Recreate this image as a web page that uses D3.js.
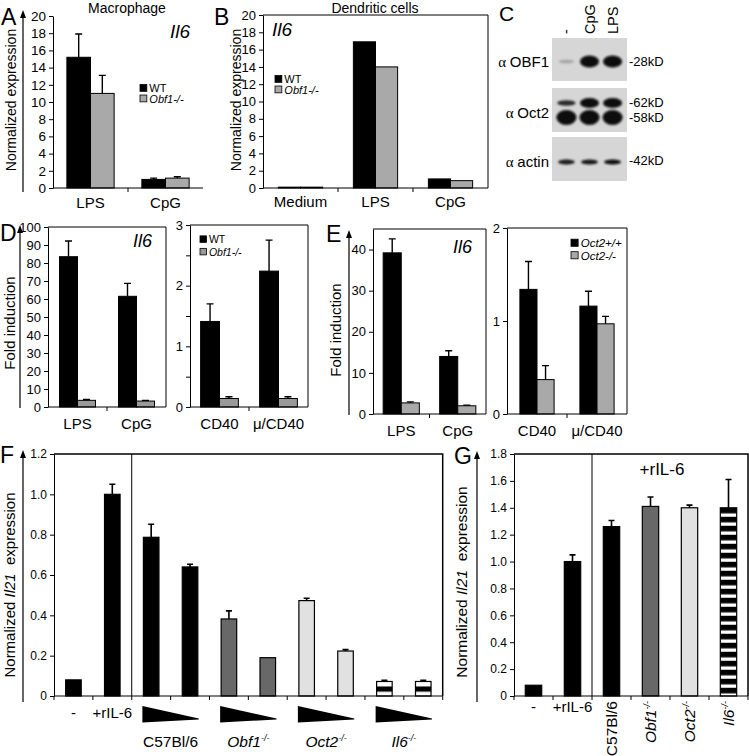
<!DOCTYPE html>
<html><head><meta charset="utf-8">
<script src="https://cdn.jsdelivr.net/npm/d3@7"></script>
<style>body{margin:0;background:#fff}svg{display:block}</style>
</head><body>
<script>
// ---------------- DATA ----------------
// Panel A (Macrophage, Il6)
const aCats = ["LPS", "CpG"];
const aWT = [15.2, 1.0];
const aWTErr = [2.7, 0.15];
const aKO = [11.0, 1.15];
const aKOErr = [2.1, 0.15];
const aTicks = [0, 2, 4, 6, 8, 10, 12, 14, 16, 18, 20];
// Panel B (Dendritic cells, Il6)
const bCats = ["Medium", "LPS", "CpG"];
const bWT = [0.1, 16.9, 1.05];
const bKO = [0.1, 14.0, 0.85];
const bTicks = [0, 2, 4, 6, 8, 10, 12, 14, 16, 18, 20];
// Panel C (western blot) band intensities per lane
const cLanes = ["-", "CpG", "LPS"];
const cOBF1 = [0.25, 1, 1];
const cOct2Upper = [0.85, 1, 1];
const cOct2Lower = [1, 1, 1];
const cActin = [0.9, 0.95, 1];
// Panel D
const d1Cats = ["LPS", "CpG"];
const d1WT = [83.5, 61.5];
const d1WTErr = [8.7, 7.2];
const d1KO = [3.7, 3.3];
const d1KOErr = [0.5, 0.4];
const d1Ticks = [0, 10, 20, 30, 40, 50, 60, 70, 80, 90, 100];
const d2Cats = ["CD40", "\u03bc/CD40"];
const d2WT = [1.41, 2.24];
const d2WTErr = [0.29, 0.51];
const d2KO = [0.14, 0.14];
const d2KOErr = [0.03, 0.03];
const d2Ticks = [0, 0.5, 1, 1.5, 2, 2.5, 3];
const d2TickLabels = ["0", "", "1", "", "2", "", "3"];
// Panel E
const e1Cats = ["LPS", "CpG"];
const e1WT = [39.2, 14.0];
const e1WTErr = [3.4, 1.4];
const e1KO = [2.7, 2.0];
const e1KOErr = [0.25, 0.15];
const e1Ticks = [0, 10, 20, 30, 40];
const e2Cats = ["CD40", "\u03bc/CD40"];
const e2WT = [1.34, 1.16];
const e2WTErr = [0.30, 0.16];
const e2KO = [0.37, 0.97];
const e2KOErr = [0.15, 0.08];
const e2Ticks = [0, 1, 2];
// Panel F (Il21)
const fSlots = ["ctl", "rIL6", "C57a", "C57b", "Obf1a", "Obf1b", "Oct2a", "Oct2b", "Il6a", "Il6b"];
const fGroups = ["ctl", "ctl", "C57", "C57", "Obf1", "Obf1", "Oct2", "Oct2", "Il6", "Il6"];
const fValues = [0.08, 1.0, 0.787, 0.64, 0.382, 0.19, 0.473, 0.223, 0.072, 0.072];
const fErrs = [0, 0.05, 0.065, 0.013, 0.04, 0, 0.012, 0.007, 0.006, 0.006];
const fTicks = [0, 0.2, 0.4, 0.6, 0.8, 1.0, 1.2];
const fTickLabels = ["0", "0.2", "0.4", "0.6", "0.8", "1.0", "1.2"];
// Panel G (Il21, +rIL-6)
const gSlots = ["ctl", "rIL6", "C57", "Obf1", "Oct2", "Il6"];
const gGroups = ["ctl", "ctl", "C57", "Obf1", "Oct2", "Il6"];
const gValues = [0.08, 1.0, 1.26, 1.41, 1.40, 1.40];
const gErrs = [0, 0.05, 0.045, 0.07, 0.02, 0.21];
const gTicks = [0, 0.2, 0.4, 0.6, 0.8, 1.0, 1.2, 1.4, 1.6, 1.8];
const gTickLabels = ["0", "0.2", "0.4", "0.6", "0.8", "1.0", "1.2", "1.4", "1.6", "1.8"];

// ---------------- SETUP ----------------
const FONT = '"Liberation Sans", Arial, Helvetica, sans-serif';
const svg = d3.select("body").append("svg").attr("width", 749).attr("height", 756)
  .style("font-family", FONT);
const defs = svg.append("defs");
defs.append("filter").attr("id", "blur").attr("x", "-50%").attr("y", "-100%").attr("width", "200%").attr("height", "300%")
  .append("feGaussianBlur").attr("stdDeviation", 1.3);

const BLACK = "#000", GRAY = "#a9a9a9", DGRAY = "#686868", LGRAY = "#e1e1e1";

function txt(g, x, y, s, size, opts = {}) {
  const t = g.append("text").attr("x", x).attr("y", y).attr("font-size", size).attr("fill", "#000")
    .attr("text-anchor", opts.anchor || "start");
  if (opts.italic) t.attr("font-style", "italic");
  if (opts.rotate) t.attr("transform", `rotate(${opts.rotate},${x},${y})`);
  if (opts.family) t.attr("font-family", opts.family);
  t.text(s);
  return t;
}
function arrowAxis(x, yb, yt) {
  svg.append("path").attr("d", `M${x},${yb}V${yt + 6}`).attr("stroke", "#000").attr("stroke-width", 1.2);
  svg.append("path").attr("d", `M${x - 3},${yt + 8}L${x},${yt}L${x + 3},${yt + 8}Z`).attr("fill", "#000");
}
function panelLetter(x, y, s, size) { txt(svg, x, y, s, size || 23); }

function barPanel(p) {
  const g = svg.append("g");
  const y = d3.scaleLinear().domain(p.domain).range([p.bottom, p.top]);
  const x = d3.scaleBand().domain(p.cats).range([p.left, p.right]).paddingInner(p.pad).paddingOuter(p.padOuter ?? p.pad / 2);
  const xs = d3.scaleBand().domain(p.series.map((s, i) => i)).range([0, x.bandwidth()]);
  if (p.frame) g.append("path").attr("d", `M${p.left},${p.top}H${p.right}V${p.bottom}`)
    .attr("fill", "none").attr("stroke", "#000").attr("stroke-width", 1);
  p.series.forEach((s, i) => {
    g.append("g").selectAll("rect").data(p.cats).join("rect")
      .attr("x", c => x(c) + xs(i)).attr("width", xs.bandwidth())
      .attr("y", (c, j) => y(s.values[j])).attr("height", (c, j) => y(0) - y(s.values[j]))
      .attr("fill", s.fill).attr("stroke", "#000").attr("stroke-width", 1);
    if (s.errs) g.append("g").selectAll("path").data(p.cats).join("path")
      .attr("d", (c, j) => {
        const cx = x(c) + xs(i) + xs.bandwidth() / 2, t = y(s.values[j] + s.errs[j]), b = y(s.values[j]);
        return `M${cx},${b}V${t}M${cx - 3.5},${t}H${cx + 3.5}`;
      }).attr("stroke", "#000").attr("stroke-width", 1.4).attr("fill", "none");
  });
  const axis = d3.axisLeft(y).tickValues(p.ticks).tickSize(4).tickSizeOuter(0).tickPadding(3)
    .tickFormat((d, i) => p.tickLabels ? p.tickLabels[i] : d);
  const ya = g.append("g").attr("transform", `translate(${p.left},0)`).call(axis);
  ya.selectAll("text").attr("font-size", p.tickFont || 13).attr("font-family", FONT).attr("fill", "#000");
  ya.selectAll("line,path").attr("stroke", "#000");
  g.append("path").attr("d", `M${p.left},${p.bottom}H${p.right}`).attr("stroke", "#000");
  const step = x.step(), gap = step * x.paddingInner();
  g.selectAll(".xt").data(p.cats.slice(1)).join("path")
    .attr("d", c => `M${x(c) - gap / 2},${p.bottom}v4`).attr("stroke", "#000");
  p.cats.forEach((c, j) => txt(g, x(c) + x.bandwidth() / 2 + (p.labelDx || 0), p.bottom + (p.labelDy || 20), c, p.labelFont || 15, { anchor: "middle" }));
  return { x, y, g };
}
function legend(x, y, items, size, dy) {
  items.forEach((it, i) => {
    svg.append("rect").attr("x", x).attr("y", y + i * dy - size * 0.68).attr("width", size * 0.62).attr("height", size * 0.62)
      .attr("fill", it.fill).attr("stroke", "#000").attr("stroke-width", 0.8);
    txt(svg, x + size * 0.85, y + i * dy, it.label, size, { italic: it.italic });
  });
}

// ---------------- PANEL A ----------------
panelLetter(1, 25, "A");
arrowAxis(23, 192, 10);
txt(svg, 16, 100, "Normalized expression", 14, { anchor: "middle", rotate: -90 });
txt(svg, 127, 13, "Macrophage", 14, { anchor: "middle" });
barPanel({ left: 53, right: 203, top: 16, bottom: 188, domain: [0, 20], cats: aCats, pad: 0.37,
  ticks: aTicks, labelDy: 20, tickFont: 13.5,
  series: [{ values: aWT, errs: aWTErr, fill: BLACK }, { values: aKO, errs: aKOErr, fill: GRAY }] });
txt(svg, 190, 38, "Il6", 19, { italic: true, anchor: "end" });
legend(140, 92, [{ fill: BLACK, label: "WT" }, { fill: GRAY, label: "Obf1-/-", italic: true }], 11, 10.5);

// ---------------- PANEL B ----------------
panelLetter(214, 25, "B");
txt(svg, 241, 100, "Normalized expression", 14, { anchor: "middle", rotate: -90 });
txt(svg, 375, 13, "Dendritic cells", 14, { anchor: "middle" });
barPanel({ left: 263, right: 488, top: 15, bottom: 188, domain: [0, 20], cats: bCats, pad: 0.41,
  ticks: bTicks, labelDy: 19, tickFont: 13, frame: true,
  series: [{ values: bWT, fill: BLACK }, { values: bKO, fill: GRAY }] });
txt(svg, 272, 36, "Il6", 19, { italic: true });
legend(275, 83, [{ fill: BLACK, label: "WT" }, { fill: GRAY, label: "Obf1-/-", italic: true }], 11, 10.5);

// ---------------- PANEL C ----------------
panelLetter(499, 21, "C", 21);
const cx = d3.scaleBand().domain(cLanes).range([552, 627]).paddingInner(0.05).paddingOuter(0.15);
const lc = l => cx(l) + cx.bandwidth() / 2;
cLanes.forEach(l => txt(svg, lc(l) + 5, 34, l, 14.5, { rotate: -90 }));
const blots = [
  { top: 38, h: 43, label: "OBF1", ly: 67, bands: [{ cy: 61.5, h: 12, w: 19, vals: cOBF1 }], kd: [{ t: "-28kD", y: 66 }] },
  { top: 88, h: 44, label: "Oct2", ly: 118, bands: [{ cy: 103, h: 10, w: 19, vals: cOct2Upper }, { cy: 117.5, h: 15, w: 20, vals: cOct2Lower }], kd: [{ t: "-62kD", y: 107 }, { t: "-58kD", y: 122 }] },
  { top: 137, h: 44, label: "actin", ly: 167, bands: [{ cy: 162, h: 5, w: 17, vals: cActin }], kd: [{ t: "-42kD", y: 165 }] }
];
blots.forEach(b => {
  svg.append("rect").attr("x", 552).attr("y", b.top).attr("width", 75).attr("height", b.h).attr("fill", "#d6d6d6");
  const gb = svg.append("g").attr("filter", "url(#blur)");
  b.bands.forEach(bd => {
    gb.selectAll(null).data(cLanes).join("ellipse")
      .attr("cx", l => lc(l)).attr("cy", bd.cy)
      .attr("rx", (l, i) => bd.w / 2 * (bd.vals[i] < 0.5 ? 0.8 : (0.85 + 0.15 * bd.vals[i])))
      .attr("ry", (l, i) => bd.vals[i] < 0.5 ? 1.8 : bd.h / 2 * (i === 0 && bd.vals === cOct2Upper ? 0.55 : 1))
      .attr("fill", (l, i) => d3.interpolateRgb("#d6d6d6", "#0a0a0a")(bd.vals[i]));
  });
  const t = txt(svg, 549, b.ly, "", 15, { anchor: "end" });
  t.append("tspan").attr("font-family", '"Liberation Serif", "DejaVu Serif", serif').text("\u03b1 ");
  t.append("tspan").text(b.label);
  b.kd.forEach(k => txt(svg, 629, k.y, k.t, 13));
});

// ---------------- PANEL D ----------------
panelLetter(0, 241, "D");
arrowAxis(20, 408, 225);
txt(svg, 15, 323, "Fold induction", 15, { anchor: "middle", rotate: -90 });
barPanel({ left: 48, right: 166, top: 227, bottom: 407, domain: [0, 100], cats: d1Cats, pad: 0.39,
  ticks: d1Ticks, labelDy: 22, frame: true,
  series: [{ values: d1WT, errs: d1WTErr, fill: BLACK }, { values: d1KO, errs: d1KOErr, fill: "#999" }] });
txt(svg, 152, 247, "Il6", 18, { italic: true, anchor: "end" });
barPanel({ left: 190, right: 308, top: 225, bottom: 407, domain: [0, 3], cats: d2Cats, pad: 0.36,
  ticks: d2Ticks, tickLabels: d2TickLabels, labelDy: 22, frame: true,
  series: [{ values: d2WT, errs: d2WTErr, fill: BLACK }, { values: d2KO, errs: d2KOErr, fill: "#999" }] });
legend(200, 243, [{ fill: BLACK, label: "WT" }, { fill: "#999", label: "Obf1-/-", italic: true }], 10.5, 12.5);

// ---------------- PANEL E ----------------
panelLetter(326, 242, "E");
arrowAxis(349, 415, 230);
txt(svg, 341, 330, "Fold induction", 15, { anchor: "middle", rotate: -90 });
barPanel({ left: 373, right: 486, top: 229, bottom: 414, domain: [0, 45], cats: e1Cats, pad: 0.36,
  ticks: e1Ticks, labelDy: 22, frame: true,
  series: [{ values: e1WT, errs: e1WTErr, fill: BLACK }, { values: e1KO, errs: e1KOErr, fill: GRAY }] });
txt(svg, 472, 253, "Il6", 18, { italic: true, anchor: "end" });
barPanel({ left: 507, right: 627, top: 228, bottom: 414, domain: [0, 2], cats: e2Cats, pad: 0.43,
  ticks: e2Ticks, labelDy: 22, frame: true,
  series: [{ values: e2WT, errs: e2WTErr, fill: BLACK }, { values: e2KO, errs: e2KOErr, fill: GRAY }] });
legend(571, 247, [{ fill: BLACK, label: "Oct2+/+" , italic: true}, { fill: GRAY, label: "Oct2-/-", italic: true }], 11.5, 12.5);

// ---------------- PANEL F ----------------
const fPat = defs.append("pattern").attr("id", "stripesF").attr("patternUnits", "userSpaceOnUse")
  .attr("width", 20).attr("height", 15);
fPat.append("rect").attr("width", 20).attr("height", 15).attr("fill", "#fff");
fPat.append("rect").attr("y", 5).attr("width", 20).attr("height", 5.2).attr("fill", "#000");
const gPat = defs.append("pattern").attr("id", "stripesG").attr("patternUnits", "userSpaceOnUse")
  .attr("width", 20).attr("height", 9);
gPat.append("rect").attr("width", 20).attr("height", 9).attr("fill", "#fff");
gPat.append("rect").attr("width", 20).attr("height", 5.6).attr("fill", "#000");

function il21Panel(p) {
  const g = svg.append("g");
  const y = d3.scaleLinear().domain(p.domain).range([p.bottom, p.top]);
  const x = d3.scaleBand().domain(p.slots).range([p.left, p.right]).paddingInner(p.pad).paddingOuter(p.pad / 2);
  const fill = d3.scaleOrdinal().domain(["ctl", "C57", "Obf1", "Oct2", "Il6"]).range([BLACK, BLACK, DGRAY, LGRAY, p.stripe]);
  g.append("path").attr("d", `M${p.left},${p.top}H${p.right}V${p.bottom}`).attr("fill", "none").attr("stroke", "#000").attr("stroke-width", 1.5);
  const sepX = x(p.slots[2]) - x.step() * x.paddingInner() / 2;
  g.append("path").attr("d", `M${sepX},${p.top}V${p.bottom}`).attr("stroke", "#000").attr("stroke-width", 1);
  g.selectAll("rect.bar").data(p.slots).join("rect").attr("class", "bar")
    .attr("x", s => x(s)).attr("width", x.bandwidth())
    .attr("y", (s, i) => y(p.values[i])).attr("height", (s, i) => y(0) - y(p.values[i]))
    .attr("fill", (s, i) => fill(p.groups[i])).attr("stroke", "#000").attr("stroke-width", 1.2);
  g.selectAll("path.err").data(p.slots).join("path").attr("class", "err")
    .attr("d", (s, i) => {
      if (!p.errs[i]) return null;
      const cx = x(s) + x.bandwidth() / 2, t = y(p.values[i] + p.errs[i]), b = y(p.values[i]);
      return `M${cx},${b}V${t}M${cx - 3},${t}H${cx + 3}`;
    }).attr("stroke", "#000").attr("stroke-width", 1.6).attr("fill", "none");
  const axis = d3.axisLeft(y).tickValues(p.ticks).tickSize(4).tickSizeOuter(0).tickPadding(3)
    .tickFormat((d, i) => p.tickLabels[i]);
  const ya = g.append("g").attr("transform", `translate(${p.left},0)`).call(axis);
  ya.selectAll("text").attr("font-size", 12).attr("font-family", FONT).attr("fill", "#000");
  ya.selectAll("line,path").attr("stroke", "#000");
  g.append("path").attr("d", `M${p.left},${p.bottom}H${p.right}`).attr("stroke", "#000").attr("stroke-width", 1.2);
  const edges = p.slots.map(s => x(s) - x.step() * x.paddingInner() / 2).concat([p.right]);
  g.selectAll("path.xt").data(edges).join("path").attr("class", "xt")
    .attr("d", e => `M${e},${p.bottom}v4`).attr("stroke", "#000");
  return { x, y, g };
}

panelLetter(0, 463, "F");
arrowAxis(23, 702, 450);
{
  const t = txt(svg, 15, 585, "", 15, { anchor: "middle", rotate: -90 });
  t.append("tspan").text("Normalized ");
  t.append("tspan").attr("font-style", "italic").text("Il21");
  t.append("tspan").text("\u00a0 expression");
}
const F = il21Panel({ left: 54, right: 442.7, top: 454, bottom: 696, domain: [0, 1.2], slots: fSlots, groups: fGroups,
  values: fValues, errs: fErrs, ticks: fTicks, tickLabels: fTickLabels, pad: 0.6, stripe: "url(#stripesF)" });
fPat.attr("y", F.y(fValues[8]));
const fCenter = i => F.x(fSlots[i]) + F.x.bandwidth() / 2;
txt(svg, fCenter(0), 718, "-", 15, { anchor: "middle" });
txt(svg, fCenter(1), 718, "+rIL-6", 15, { anchor: "middle" });
const fLabels = [
  { a: 2, name: "C57Bl/6", it: false, sup: "" },
  { a: 4, name: "Obf1", it: true, sup: "-/-" },
  { a: 6, name: "Oct2", it: true, sup: "-/-" },
  { a: 8, name: "Il6", it: true, sup: "-/-" }
];
fLabels.forEach(l => {
  const x0 = F.x(fSlots[l.a]) - 1, x1 = F.x(fSlots[l.a + 1]) + F.x.bandwidth() + 1;
  svg.append("path").attr("d", `M${x0},706L${x1},718.5L${x1},719.5L${x0},722.5Z`).attr("fill", "#000");
  const t = txt(svg, (x0 + x1) / 2, 747, "", 15.5, { anchor: "middle" });
  const m = t.append("tspan").text(l.name);
  if (l.it) m.attr("font-style", "italic");
  if (l.sup) t.append("tspan").attr("font-size", 9).attr("dy", -6).attr("font-style", "italic").text(l.sup);
});

// ---------------- PANEL G ----------------
panelLetter(454, 464, "G");
arrowAxis(477, 702, 451);
{
  const t = txt(svg, 467, 582, "", 15.5, { anchor: "middle", rotate: -90 });
  t.append("tspan").text("Normalized ");
  t.append("tspan").attr("font-style", "italic").text("Il21");
  t.append("tspan").text("\u00a0 expression");
}
const G = il21Panel({ left: 514, right: 748, top: 454, bottom: 696, domain: [0, 1.8], slots: gSlots, groups: gGroups,
  values: gValues, errs: gErrs, ticks: gTicks, tickLabels: gTickLabels, pad: 0.58, stripe: "url(#stripesG)" });
gPat.attr("y", G.y(gValues[5]));
const gCenter = i => G.x(gSlots[i]) + G.x.bandwidth() / 2;
txt(svg, 662, 475, "+rIL-6", 17, { anchor: "middle" });
txt(svg, gCenter(0), 712, "-", 15, { anchor: "middle" });
txt(svg, gCenter(1), 712, "+rIL-6", 15, { anchor: "middle" });
const gLabels = [
  { a: 2, name: "C57Bl/6", it: false, sup: "" },
  { a: 3, name: "Obf1", it: true, sup: "-/-" },
  { a: 4, name: "Oct2", it: true, sup: "-/-" },
  { a: 5, name: "Il6", it: true, sup: "-/-" }
];
gLabels.forEach(l => {
  const cx0 = gCenter(l.a) + 5.5;
  const t = txt(svg, cx0, 701, "", 15.5, { anchor: "end", rotate: -90 });
  const m = t.append("tspan").text(l.name);
  if (l.it) m.attr("font-style", "italic");
  if (l.sup) t.append("tspan").attr("font-size", 9).attr("dy", -6).attr("font-style", "italic").text(l.sup);
});
</script>
</body></html>
